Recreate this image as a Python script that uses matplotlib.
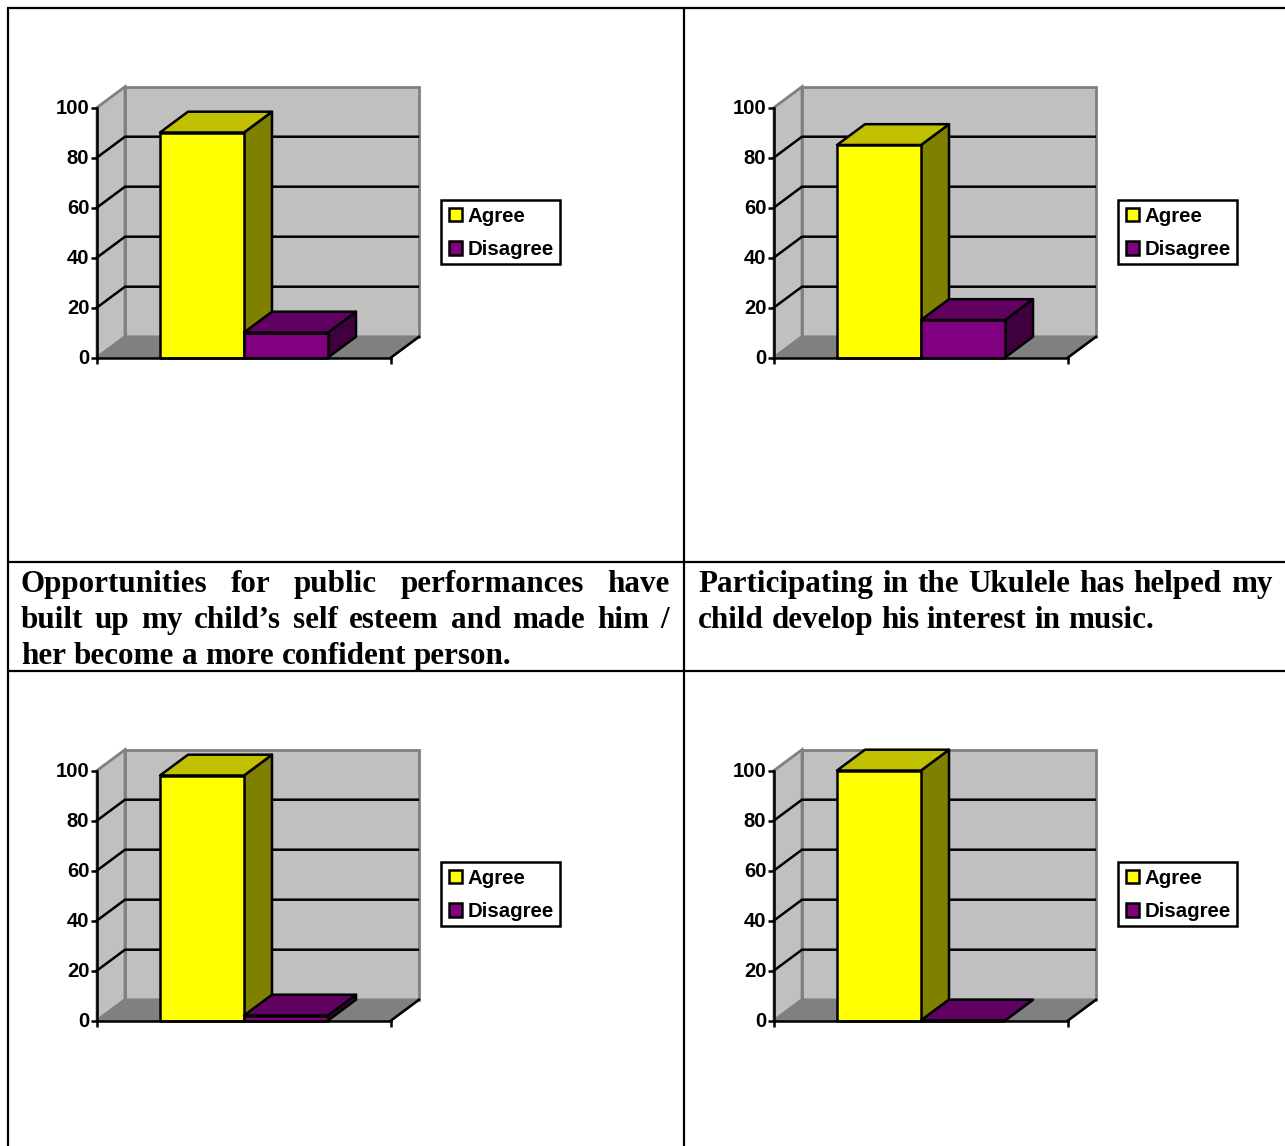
import matplotlib
matplotlib.use("Agg")
import matplotlib.pyplot as plt
from matplotlib.patches import Patch, Polygon, Rectangle
from matplotlib.transforms import ScaledTranslation

W, H = 1285, 1146
SERIES = ["Agree", "Disagree"]
agree_values = [90, 85, 98, 100]
disagree_values = [10, 15, 2, 0]
y_ticks = [0, 20, 40, 60, 80, 100]
captions = [
    ["Opportunities for public performances have",
     "built up my child\u2019s self esteem and made him /",
     "her become a more confident person."],
    ["Participating in the Ukulele has helped my",
     "child develop his interest in music."],
]
# left edge of each axis box, and the y pixel of its top (value 100)
chart_left = [97, 774, 97, 774]
chart_top = [107.5, 107.5, 770.5, 770.5]

FRONT = ["#FFFF00", "#800080"]
TOP = ["#C0C000", "#600060"]
SIDE = ["#808000", "#400040"]
WALL = "#C0C0C0"
FLOOR = "#808080"
LW = 1.8
AXW, AXH = 294, 250
DX, DY = 28 / AXW, 20.8 / AXH * 100   # depth of the 3D box in data units
BAR_W = 84 / AXW
BAR_X0 = 63 / AXW
CAPTION_SIZE = 22.4

plt.rcParams["font.family"] = ["Liberation Sans", "DejaVu Sans"]
fig = plt.figure(figsize=(W / 100, H / 100), dpi=100, facecolor="white")

# page layer: table rules and the captions under the first row of charts
page = fig.add_axes([0, 0, 1, 1], zorder=0)
page.set_xlim(0, W)
page.set_ylim(H, 0)
page.axis("off")
for x0, y0, x1, y1 in [(7, 8, W, 8), (8, 8, 8, H), (684, 8, 684, H),
                       (7, 562, W, 562), (7, 671, W, 671)]:
    page.plot([x0, x1], [y0, y1], color="black", lw=1.6, solid_capstyle="butt")


def justified(line, left, right, y, stretch):
    words = line.split(" ")
    renderer = fig.canvas.get_renderer()
    kw = dict(family="Liberation Serif", weight="bold", fontsize=CAPTION_SIZE)
    items = [page.text(left, y, w, va="baseline", ha="left", **kw) for w in words]
    widths = [t.get_window_extent(renderer).width for t in items]
    probe = page.text(0, 0, "a a", **kw)
    probe2 = page.text(0, 0, "aa", **kw)
    space = probe.get_window_extent(renderer).width - probe2.get_window_extent(renderer).width
    probe.remove()
    probe2.remove()
    if stretch and len(words) > 1:
        space = (right - left - sum(widths)) / (len(words) - 1)
    x = left
    for t, w in zip(items, widths):
        t.set_x(x)
        x += w + space


for lines, (left, right) in zip(captions, [(21, 669), (698, 1272)]):
    for i, line in enumerate(lines):
        justified(line, left, right, 592 + 36 * i, i < len(lines) - 1)


def box3d(ax, x0, x1, value, colours, z):
    front = [(x0, 0), (x1, 0), (x1, value), (x0, value)]
    top = [(x0, value), (x1, value), (x1 + DX, value + DY), (x0 + DX, value + DY)]
    side = [(x1, 0), (x1 + DX, DY), (x1 + DX, value + DY), (x1, value)]
    for pts, c in [(side, colours[2]), (top, colours[1]), (front, colours[0])]:
        ax.add_patch(Polygon(pts, closed=True, facecolor=c, edgecolor="black",
                             lw=LW, joinstyle="round", clip_on=False, zorder=z))


def draw_chart(left, top, agree, disagree):
    ax = fig.add_axes([left / W, 1 - (top + AXH) / H, AXW / W, AXH / H], zorder=1)
    ax.patch.set_visible(False)
    ax.set_xlim(0, 1)
    ax.set_ylim(0, 100)

    # walls and floor
    ax.add_patch(Polygon([(DX, DY), (1 + DX, DY), (1 + DX, 100 + DY), (DX, 100 + DY)],
                         facecolor=WALL, edgecolor=FLOOR, lw=2.0, clip_on=False, zorder=1))
    ax.add_patch(Polygon([(0, 0), (DX, DY), (DX, 100 + DY), (0, 100)],
                         facecolor=WALL, edgecolor=FLOOR, lw=2.0, clip_on=False, zorder=1))
    ax.add_patch(Polygon([(0, 0), (1, 0), (1 + DX, DY), (DX, DY)],
                         facecolor=FLOOR, edgecolor=FLOOR, lw=LW, clip_on=False, zorder=1))
    ax.plot([1, 1 + DX], [0, DY], color="black", lw=LW, clip_on=False, zorder=2)

    # gridlines run along the side wall and then the back wall
    for v in y_ticks[1:-1]:
        ax.plot([0, DX, 1 + DX - 0.004], [v, v + DY, v + DY], color="black", lw=LW,
                clip_on=False, zorder=2, solid_joinstyle="miter")

    # the second series is drawn over the side face of the first
    box3d(ax, BAR_X0, BAR_X0 + BAR_W, agree, (FRONT[0], TOP[0], SIDE[0]), 3)
    box3d(ax, BAR_X0 + BAR_W, BAR_X0 + 2 * BAR_W, disagree, (FRONT[1], TOP[1], SIDE[1]), 4)

    for name in ("top", "right"):
        ax.spines[name].set_visible(False)
    for name in ("left", "bottom"):
        ax.spines[name].set_linewidth(LW)
        ax.spines[name].set_zorder(5)
    ax.set_xticks([0, 1], ["", ""])
    ax.set_yticks(y_ticks, [str(v) for v in y_ticks])
    ax.tick_params(axis="x", length=4.5, width=LW, direction="out")
    ax.tick_params(axis="y", length=4.0, width=LW, direction="out", pad=1.5)
    nudge = ScaledTranslation(0, 1 / 100, fig.dpi_scale_trans)
    for label in ax.get_yticklabels():
        label.set_fontweight("bold")
        label.set_fontsize(14.6)
        label.set_transform(label.get_transform() + nudge)

    # legend frame is a separate box so its padding can be uneven
    ytop = round(top) - 107
    page.add_patch(Rectangle((left + 344, ytop + 198.5), 119, 64, facecolor="white",
                             edgecolor="black", lw=LW))
    handles = [Patch(facecolor=FRONT[i], edgecolor="black", lw=LW, label=SERIES[i]) for i in range(2)]
    ax.legend(handles=handles, loc="upper left",
              bbox_to_anchor=((left + 344) / W, 1 - (ytop + 198) / H),
              bbox_transform=fig.transFigure, frameon=False, borderpad=0.37, borderaxespad=0,
              handlelength=0.64, handleheight=0.64, handletextpad=0.28,
              labelspacing=0.72, prop={"weight": "bold", "size": 14.7})


for i in range(4):
    draw_chart(chart_left[i], chart_top[i], agree_values[i], disagree_values[i])

fig.savefig("out.png", dpi=100)
